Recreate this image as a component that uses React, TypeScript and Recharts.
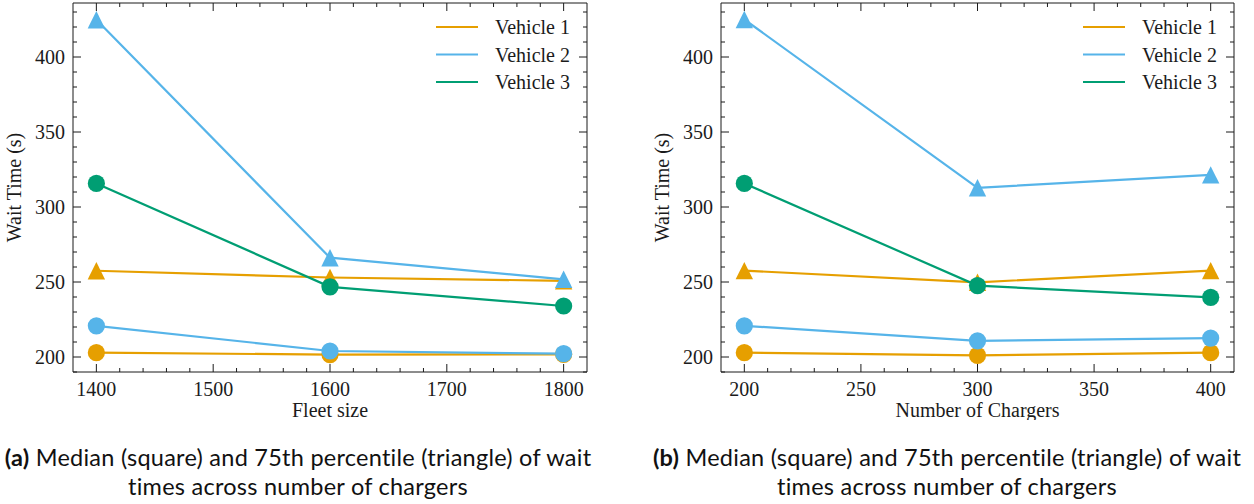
import React from 'react';
import { LineChart, Line, XAxis, YAxis, Legend } from 'recharts';

// panel (a): fleet size
const fleetSizes = [1400, 1600, 1800];
const fleetV1Median = [202.9, 201.6, 201.8];
const fleetV1P75 = [257.5, 253, 250.8];
const fleetV2Median = [220.8, 204, 202.2];
const fleetV2P75 = [424.8, 266.2, 251.8];
const fleetV3Median = [315.7, 246.8, 234];

// panel (b): number of chargers
const chargerCounts = [200, 300, 400];
const chargerV1Median = [202.9, 201.1, 202.9];
const chargerV1P75 = [257.6, 249.8, 257.6];
const chargerV2Median = [220.8, 210.8, 212.6];
const chargerV2P75 = [425, 312.8, 321.4];
const chargerV3Median = [315.7, 247.6, 239.8];

// axes
const fleetTicks = [1400, 1420, 1440, 1460, 1480, 1500, 1520, 1540, 1560, 1580, 1600, 1620, 1640, 1660, 1680, 1700, 1720, 1740, 1760, 1780, 1800];
const chargerTicks = [200, 210, 220, 230, 240, 250, 260, 270, 280, 290, 300, 310, 320, 330, 340, 350, 360, 370, 380, 390, 400];
const waitTicks = [190, 200, 210, 220, 230, 240, 250, 260, 270, 280, 290, 300, 310, 320, 330, 340, 350, 360, 370, 380, 390, 400, 410, 420, 430];

const legendNames = ['Vehicle 1', 'Vehicle 2', 'Vehicle 3'];
const colors = ['#E69F00', '#56B4E9', '#009E73'];

const INK = '#1b1b1b';
const SERIF = '"Liberation Serif", "Times New Roman", serif';
const FS = 20;

const circleDot = (color: string) => (p: any) => {
  if (p.cx == null || p.cy == null) return <g key={p.key} />;
  return <circle key={p.key} cx={p.cx} cy={p.cy} r={8.6} fill={color} />;
};

const triangleDot = (color: string) => (p: any) => {
  if (p.cx == null || p.cy == null) return <g key={p.key} />;
  const h = 8.7;
  return (
    <polygon
      key={p.key}
      points={`${p.cx},${p.cy - h} ${p.cx - h},${p.cy + h} ${p.cx + h},${p.cy + h}`}
      fill={color}
    />
  );
};

const isMajor = (v: number, step: number) => Math.abs(v / step - Math.round(v / step)) < 1e-6;

// ticks point inward on all four sides, labels only on bottom/left
const makeTick = (side: string, step: number) => (props: any) => {
  const { x, y, payload } = props;
  const v = payload.value;
  const major = isMajor(v, step);
  const len = major ? 8 : 4;
  let line;
  let label = null;
  if (side === 'bottom') {
    line = <line x1={x} x2={x} y1={y} y2={y - len} stroke={INK} />;
    if (major) label = <text x={x} y={y + 24} textAnchor="middle" fontSize={FS} fontFamily={SERIF} fill={INK}>{v}</text>;
  } else if (side === 'top') {
    line = <line x1={x} x2={x} y1={y} y2={y + len} stroke={INK} />;
  } else if (side === 'left') {
    line = <line x1={x} x2={x + len} y1={y} y2={y} stroke={INK} />;
    if (major) label = <text x={x - 8} y={y + 7} textAnchor="end" fontSize={FS} fontFamily={SERIF} fill={INK}>{v}</text>;
  } else {
    line = <line x1={x} x2={x - len} y1={y} y2={y} stroke={INK} />;
  }
  return (
    <g>
      {line}
      {label}
    </g>
  );
};

const Panel = ({
  xs, v1Median, v1P75, v2Median, v2P75, v3Median, xTicks, xStep, xDomain,
  xLabel, width, leftW, rightW, legendX,
}: any) => {
  const data = xs.map((x: number, i: number) => ({
    x,
    v1Median: v1Median[i],
    v1P75: v1P75[i],
    v2Median: v2Median[i],
    v2P75: v2P75[i],
    v3Median: v3Median[i],
  }));
  const height = 420;
  const plotLeft = leftW;
  const plotRight = width - rightW;
  const series = [
    { key: 'v1Median', color: colors[0], dot: circleDot(colors[0]) },
    { key: 'v1P75', color: colors[0], dot: triangleDot(colors[0]) },
    { key: 'v2Median', color: colors[1], dot: circleDot(colors[1]) },
    { key: 'v2P75', color: colors[1], dot: triangleDot(colors[1]) },
    { key: 'v3Median', color: colors[2], dot: circleDot(colors[2]) },
  ];
  return (
    <LineChart width={width} height={height} data={data} margin={{ top: 0, right: 0, bottom: 0, left: 0 }}>
      <XAxis xAxisId="bottom" dataKey="x" type="number" domain={xDomain} allowDataOverflow ticks={xTicks} interval={0}
        height={48} tickSize={0} tickMargin={0} tickLine={false} axisLine={{ stroke: INK }} tick={makeTick('bottom', xStep)} />
      <XAxis xAxisId="top" orientation="top" dataKey="x" type="number" domain={xDomain} allowDataOverflow ticks={xTicks} interval={0}
        height={3} tickSize={0} tickMargin={0} tickLine={false} axisLine={{ stroke: INK }} tick={makeTick('top', xStep)} />
      <YAxis yAxisId="left" type="number" domain={[190, 436]} allowDataOverflow ticks={waitTicks} interval={0}
        width={leftW} tickSize={0} tickMargin={0} tickLine={false} axisLine={{ stroke: INK }} tick={makeTick('left', 50)} />
      <YAxis yAxisId="right" orientation="right" type="number" domain={[190, 436]} allowDataOverflow ticks={waitTicks} interval={0}
        width={rightW} tickSize={0} tickMargin={0} tickLine={false} axisLine={{ stroke: INK }} tick={makeTick('right', 50)} />
      {series.map((s) => (
        <Line key={s.key} xAxisId="bottom" yAxisId="left" dataKey={s.key} stroke={s.color} strokeWidth={2.2}
          dot={s.dot} activeDot={false} isAnimationActive={false} legendType="none" />
      ))}
      <Legend layout="vertical" align="center" verticalAlign="middle"
        wrapperStyle={{ left: legendX, top: 10, width: 180, height: 90 }}
        content={() => (
          <svg width={180} height={90}>
            {legendNames.map((n, i) => (
              <g key={n}>
                <line x1={0} x2={42} y1={17 + i * 27.5} y2={17 + i * 27.5} stroke={colors[i]} strokeWidth={2.2} />
                <text x={59} y={24 + i * 27.5} fontSize={FS} fontFamily={SERIF} fill={INK}>{n}</text>
              </g>
            ))}
          </svg>
        )}
      />
      <text x={(plotLeft + plotRight) / 2} y={417} textAnchor="middle" fontSize={FS} fontFamily={SERIF} fill={INK}>{xLabel}</text>
      <text x={0} y={0} transform={`translate(${leftW - 52}, 187.5) rotate(-90)`} textAnchor="middle" fontSize={FS} fontFamily={SERIF} fill={INK}>
        Wait Time (s)
      </text>
    </LineChart>
  );
};

const captionStyle: React.CSSProperties = {
  position: 'absolute',
  top: 443,
  width: 640,
  textAlign: 'center',
  fontFamily: 'Lato, "DejaVu Sans", sans-serif',
  fontSize: 23.5,
  letterSpacing: 0.25,
  lineHeight: '29px',
  color: '#111',
  whiteSpace: 'nowrap',
};

export default function App() {
  return (
    <div style={{ position: 'absolute', left: 0, top: 0, width: 1254, height: 504, background: '#fff', overflow: 'hidden' }}>
      <div style={{ position: 'absolute', left: 0, top: 0 }}>
        <Panel xs={fleetSizes} v1Median={fleetV1Median} v1P75={fleetV1P75} v2Median={fleetV2Median} v2P75={fleetV2P75}
          v3Median={fleetV3Median} xTicks={fleetTicks} xStep={100} xDomain={[1380, 1820]} xLabel="Fleet size"
          width={600} leftW={73} rightW={13} legendX={436} />
      </div>
      <div style={{ position: 'absolute', left: 640, top: 0 }}>
        <Panel xs={chargerCounts} v1Median={chargerV1Median} v1P75={chargerV1P75} v2Median={chargerV2Median} v2P75={chargerV2P75}
          v3Median={chargerV3Median} xTicks={chargerTicks} xStep={50} xDomain={[190, 410]} xLabel="Number of Chargers"
          width={614} leftW={81} rightW={20} legendX={443} />
      </div>
      <div style={{ ...captionStyle, left: 298 - 320 }}>
        <b>(a)</b> Median (square) and 75th percentile (triangle) of wait<br />times across number of chargers
      </div>
      <div style={{ ...captionStyle, left: 947 - 320 }}>
        <b>(b)</b> Median (square) and 75th percentile (triangle) of wait<br />times across number of chargers
      </div>
    </div>
  );
}
